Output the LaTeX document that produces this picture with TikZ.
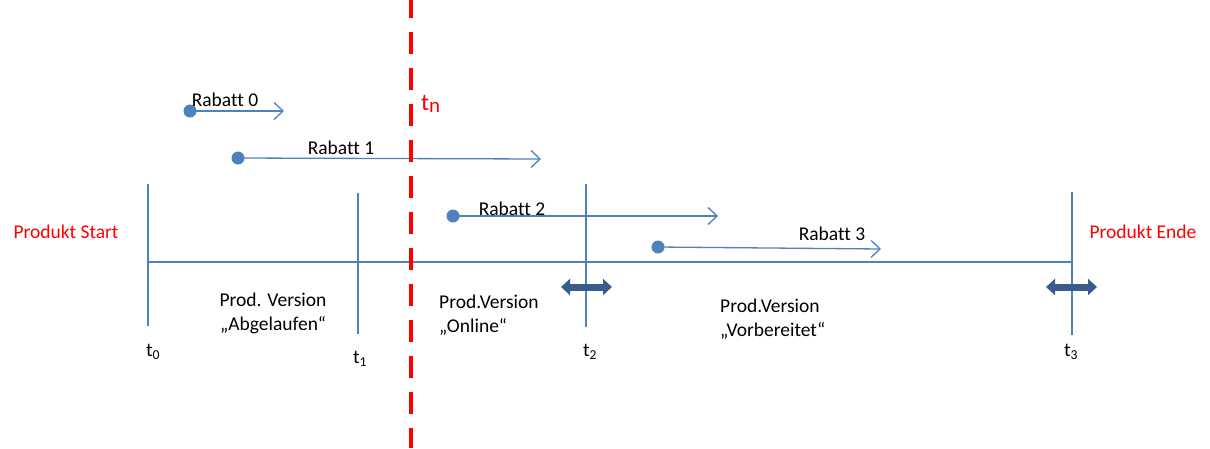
\documentclass[tikz,border=0pt]{standalone}
\usepackage{fontspec}
\setmainfont{Carlito}[Ligatures=NoCommon]
\usetikzlibrary{arrows.meta}
\definecolor{lblue}{HTML}{4F81BD}
\definecolor{dblue}{HTML}{385D8A}
\definecolor{redc}{HTML}{FF0000}
\begin{document}
\begin{tikzpicture}[x=1pt,y=-1pt,
  every node/.style={font=\fontsize{19.5}{24}\selectfont, inner sep=0pt},
  axis/.style={draw=lblue, line width=1.3pt},
  rabarrow/.style={draw=lblue, line width=1.3pt, -{Straight Barb[length=9pt,width=17pt,line width=1.3pt]}},
  dotn/.style={circle, fill=lblue, minimum size=13pt},
  dbl/.style={draw=dblue, line width=7pt, {Triangle[length=9pt,width=16pt]}-{Triangle[length=9pt,width=16pt]}},
  redtxt/.style={text=redc}
]
\useasboundingbox[fill=white] (0,0) rectangle (1210,448);
% axis
\coordinate (L) at (148,262);
\coordinate (R) at (1072,262);
\draw[axis] (L) -- (R);
\coordinate (t0a) at (148,184); \coordinate (t0b) at (148,326);
\coordinate (t1a) at (358,193); \coordinate (t1b) at (358,334);
\coordinate (t2a) at (586,184); \coordinate (t2b) at (586,327);
\coordinate (t3a) at (1072,192); \coordinate (t3b) at (1072,335);
\draw[axis] (t0a) -- (t0b);
\draw[axis] (t1a) -- (t1b);
\draw[axis] (t2a) -- (t2b);
\draw[axis] (t3a) -- (t3b);
% tick labels
\node (lt0) at (153,352) {t\textsubscript{0}};
\node (lt1) at (360,359) {t\textsubscript{1}};
\node (lt2) at (590,352) {t\textsubscript{2}};
\node (lt3) at (1071,352) {t\textsubscript{3}};
% side labels
\node[redtxt] (pstart) at (66,232) {Produkt Start};
\node[redtxt] (pende) at (1143,232) {Produkt Ende};
% version labels
\node[align=center] (v1) at (273,313) {Prod. Version\\„Abgelaufen“};
\node[align=left, anchor=west] (v2) at (439,315) {Prod.Version\\„Online“};
\node[align=left, anchor=west] (v3) at (720,319) {Prod.Version\\„Vorbereitet“};
% double arrows
\coordinate (d2a) at (561,287); \coordinate (d2b) at (612,287);
\coordinate (d3a) at (1046,287); \coordinate (d3b) at (1097,287);
\draw[dbl] (d2a) -- (d2b);
\draw[dbl] (d3a) -- (d3b);
% rabatt arrows
\node[dotn] (r0) at (190,111) {};
\coordinate (r0e) at (284,111);
\draw[rabarrow] (r0.center) -- (r0e);
\node (lr0) at (225,100) {Rabatt 0};
\node[dotn] (r1) at (238,158) {};
\coordinate (r1e) at (541,159);
\draw[rabarrow] (r1.center) -- (r1e);
\node (lr1) at (341,148) {Rabatt 1};
\node[dotn] (r2) at (453,216) {};
\coordinate (r2e) at (718,216);
\draw[rabarrow] (r2.center) -- (r2e);
\node (lr2) at (512,209) {Rabatt 2};
\node[dotn] (r3) at (658,247) {};
\coordinate (r3e) at (881,249);
\draw[rabarrow] (r3.center) -- (r3e);
\node (lr3) at (832,234) {Rabatt 3};
% red dashed line
\coordinate (tna) at (411,0);
\coordinate (tnb) at (411,448);
\draw[redc, line width=4.5pt, dash pattern=on 22pt off 14pt, dash phase=4pt] (tna) -- (tnb);
\node[redtxt, anchor=west] (tn) at (421,104) {\fontsize{24}{26}\selectfont t\raisebox{-1.5pt}{\fontsize{21}{22}\selectfont n}};
\end{tikzpicture}
\end{document}
